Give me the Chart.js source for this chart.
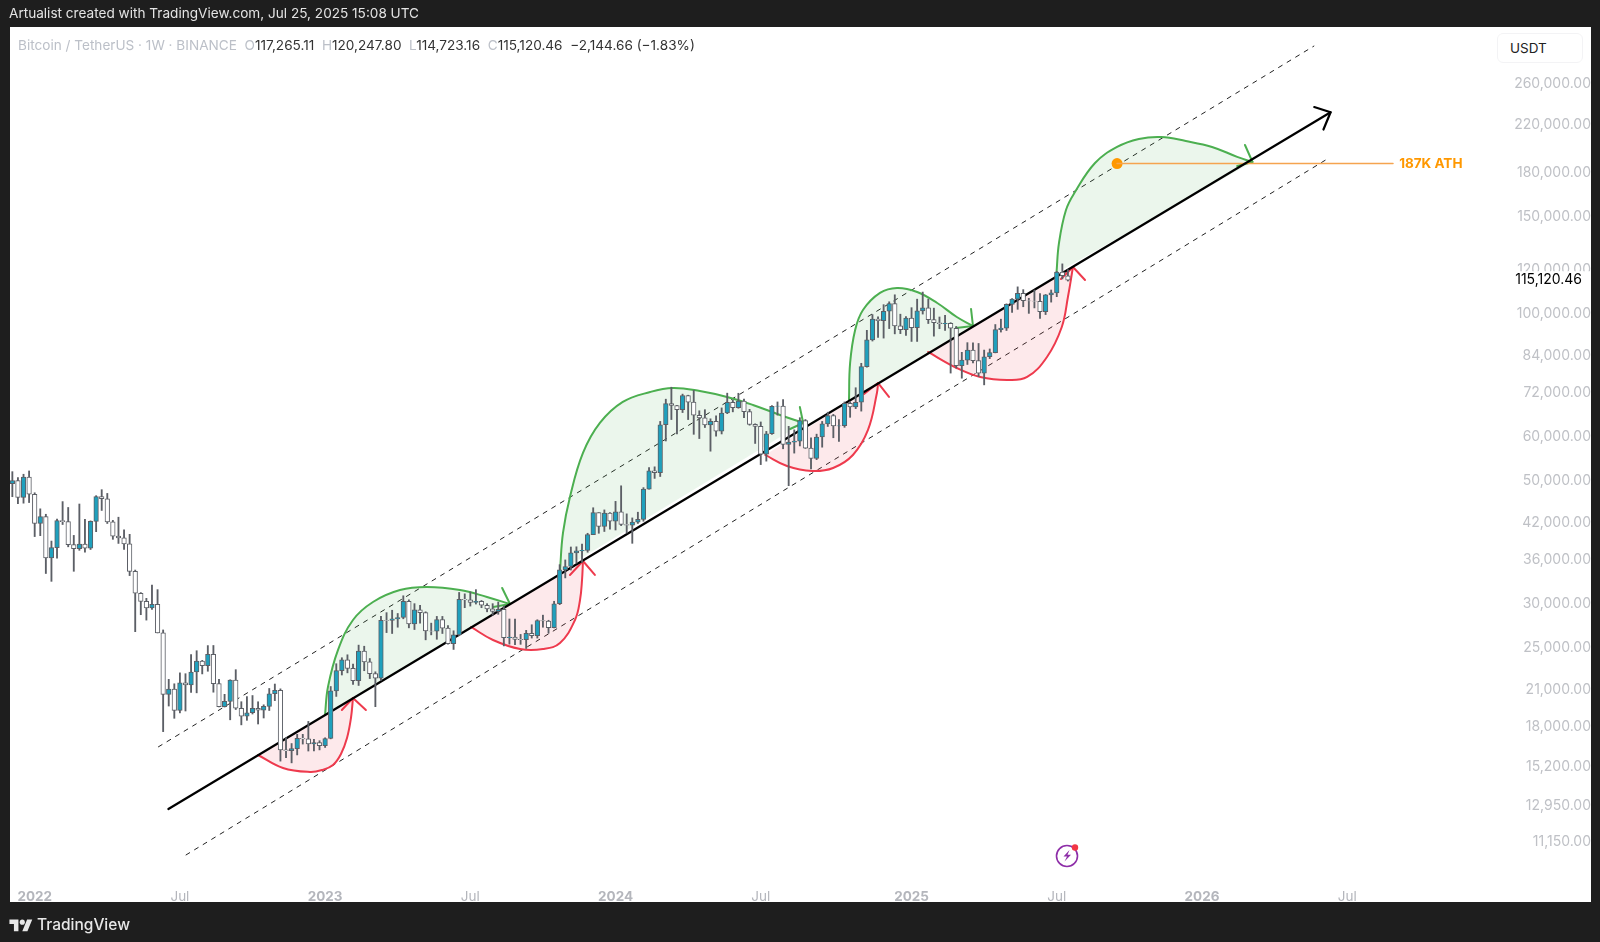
<!DOCTYPE html>
<html><head><meta charset="utf-8">
<style>
html,body{margin:0;padding:0;width:1600px;height:942px;background:#1e1e1e;overflow:hidden;font-family:Inter,"Noto Sans",sans-serif}
#panel{position:absolute;left:10px;top:27px;width:1581px;height:875px;background:#fff}
canvas{position:absolute;left:0;top:0}
.t{position:absolute;white-space:nowrap}
#hdr{left:9px;top:5px;font-size:13.6px;line-height:17px;color:#e4e4e4}
#leg{left:18px;top:36px;font-size:13.6px;line-height:18px;color:#333}
#leg i{font-style:normal;color:#bcc0c8}
#usdt{left:1497px;top:33px;width:84px;height:28px;border:1px solid #f3f3f5;border-radius:6px;color:#222;font-size:13.5px;line-height:28px;text-indent:12px;background:#fff}
#foot{left:37px;top:915px;font-size:15.5px;line-height:19px;color:#e8e8e8;font-weight:500}
</style></head><body>
<div id="panel"></div>
<canvas id="c" width="1600" height="942"></canvas>
<div class="t" id="hdr">Artualist created with TradingView.com, Jul 25, 2025 15:08 UTC</div>
<div class="t" id="leg"><i>Bitcoin / TetherUS · 1W · BINANCE&nbsp; O</i>117,265.11&nbsp; <i>H</i>120,247.80&nbsp; <i>L</i>114,723.16&nbsp; <i>C</i>115,120.46&nbsp; −2,144.66 (−1.83%)</div>
<div class="t" id="usdt">USDT</div>
<svg class="t" style="left:9px;top:917px" width="24" height="18" viewBox="0 0 36 28"><path fill="#e8e8e8" d="M14 22H7V11H0V4h14v18zM28 22h-8l7.5-18h8L28 22z"/><circle fill="#e8e8e8" cx="20" cy="8" r="4"/></svg>
<div class="t" id="foot">TradingView</div>
<svg class="t" style="left:1054px;top:841px" width="28" height="28" viewBox="0 0 28 28"><circle cx="13" cy="15" r="10.5" fill="none" stroke="#8e2ea8" stroke-width="1.6"/><path d="M15.5 9 L9.5 15.5 H13 L10.5 20.5 L17 13.8 H13.5 Z" fill="#8e2ea8"/><circle cx="21" cy="6.5" r="3.2" fill="#f23645"/></svg>
<script src="https://cdn.jsdelivr.net/npm/chart.js@4"></script>
<script>
// Weekly candles, first one = week of 2021-12-06 (week number -4; 0 = week of 2022-01-03)
const firstWeek = -4;
const open = [
49396,50053,46681,50775,47286,41864,43075,36276,37881,42380,
42197,38340,37699,38420,37777,42233,46827,46400,42158,39716,
39450,38470,34302,31328,30293,29469,29919,26574,20574,21027,
19243,21587,21400,22579,23634,23175,24305,21515,19555,19990,
21826,19420,18800,19060,19415,19262,19570,20627,20925,16330,
16280,16425,17130,17100,16740,16838,16618,17127,20871,22707,
23743,22930,21780,24630,23558,22430,21999,27983,27970,28170,
28320,30300,27590,29230,28900,26780,26750,28075,27100,25400,
26340,30530,30470,30160,30290,29800,29350,29050,29300,26050,
26100,25860,25830,26520,26250,27970,27917,27150,29990,34530,
35010,37060,37370,37450,39970,43790,41370,43720,42280,43950,
41700,41580,42120,42580,48300,52130,51730,63130,68950,68390,
67210,71280,69360,65660,64940,63100,64000,61480,66270,69270,
67780,69650,66670,63200,62700,55850,60800,68160,68250,58160,
58720,58950,64220,57270,54870,59990,63340,65600,62820,62870,
69000,67950,69300,80370,89850,97900,97300,101170,104460,95190,
93700,98360,94500,101330,102620,97700,96460,96120,96270,94270,
80700,82600,86080,82390,78250,83760,85170,93750,94300,104120,
106450,109000,105700,105600,105500,100960,108350,109200,119090,117265.11];
const high = [
51936,50650,51380,52088,47570,44500,43505,38919,42656,45855,
44751,39843,45400,42594,42325,47000,48189,47444,42414,42976,
40797,40023,34500,31414,30670,32400,31800,26895,21900,21500,
22500,22420,24281,24668,23700,25200,25211,21900,20580,21860,
22799,19956,20385,20475,19951,19700,21085,21478,21053,17190,
16771,17424,17424,18387,17061,16970,17176,21258,23371,23960,
24255,23340,25250,25134,23880,22600,28470,28900,29190,28800,
31000,30480,30000,29800,29000,27666,28450,28450,27400,26800,
31431,31250,31500,31800,30400,30000,30000,30200,29700,28150,
28140,26400,26850,27480,28060,28600,28000,30300,35280,35980,
37970,38000,38450,40200,44700,43800,44300,43800,45900,48970,
43580,42850,43880,48600,52820,52990,64000,70200,73777,68400,
71700,71370,72800,66900,67200,64700,65500,67700,71980,70000,
71950,70200,67300,63370,63860,61400,68350,69400,70080,62700,
61800,65000,64500,59800,60700,64000,66500,65900,64500,69400,
69500,73620,81500,93480,99800,98900,104000,105250,108350,99960,
99000,102700,106400,109588,106457,102500,98800,99500,96500,95000,
85300,88800,88770,88500,86100,86500,95750,97900,104350,106660,
111980,110700,106800,110500,108950,108500,110530,119490,123218,120247.80];
const low = [
46800,45456,45558,45678,39650,39800,34008,32917,36250,41688,
38000,34322,37450,37155,37578,40467,44200,41868,39200,38536,
37578,33713,26700,28654,28019,29300,26560,17622,19600,18626,
19050,19200,20750,20706,22400,22650,20761,19520,19520,18510,
19320,18125,18471,18961,18190,18650,19240,20048,15588,15815,
15476,15995,16733,16256,16272,16333,16500,17100,20400,22300,
22500,21451,21351,22700,21971,19549,21810,26600,26500,27200,
28170,27130,26940,27666,25811,26350,25871,26500,25350,24800,
26250,29500,29700,29950,29500,29000,28600,28700,25166,25350,
25300,25333,24900,26000,26000,27200,26530,27120,29880,33390,
34500,35500,35600,37150,39970,40200,40500,40900,40750,41500,
40250,38555,41880,42260,48300,50500,50900,59000,64500,60760,
66400,64500,60660,59600,62400,56550,60200,60750,66100,66600,
67600,65000,63000,58400,53485,54260,60650,65700,57120,49000,
56100,57800,57200,52550,54600,57500,62670,59800,58900,62450,
65100,67500,66800,80200,89400,90800,90500,94150,92100,92200,
91500,89250,89250,100000,96150,91230,94090,93400,78250,79900,
76600,81100,81600,77150,74508,83100,85100,92800,93400,100700,
102000,103100,100300,102600,98200,99800,105100,107500,115736,114723.16];
const close = [
50053,46681,50775,47286,41864,43088,36276,37881,42380,42197,
38340,37699,38420,37777,42233,46827,46400,42158,39716,39450,
38470,34302,31328,30293,29469,29919,26574,20574,21027,19243,
21587,21400,22579,23634,23175,24305,21515,19555,19990,21826,
19420,18800,19060,19415,19262,19570,20627,20925,16330,16280,
16425,17130,17100,16740,16838,16618,17127,20870,22707,23743,
22930,21780,24630,23558,22430,21999,27983,27970,28170,28320,
30300,27590,29230,28900,26780,26750,28075,27100,25400,26340,
30530,30470,30160,30290,29800,29350,29050,29300,26050,26100,
25860,25830,26520,26250,27970,27917,27150,29990,34530,35010,
37060,37370,37450,39970,43790,41370,43720,42280,43950,41700,
41580,42120,42580,48300,52130,51730,63130,68950,68390,67210,
71280,69360,65660,64940,63100,64000,61480,66270,69270,67780,
69650,66670,63200,62700,55850,60800,68160,68250,58160,58720,
58950,64220,57270,54870,59990,63340,65600,62820,62870,69000,
67950,69300,80370,89850,97900,97300,101170,104460,95190,93700,
98360,94500,101330,102620,97700,96460,96120,96270,94270,80700,
82600,86080,82390,78250,83760,85170,93750,94300,104120,106450,
109000,105700,105600,105500,100960,108350,109200,119090,117265,115120.46];

const priceTicks = [260000,220000,180000,150000,120000,100000,84000,72000,60000,50000,42000,36000,30000,25000,21000,18000,15200,12950,11150];
const timeTickWeeks = [0,26,52,78,104,130,157,183,209,235];
const timeTickLabels = ['2022','Jul','2023','Jul','2024','Jul','2025','Jul','2026','Jul'];

// Channel lines: [week, price]
const trendLine = [[23.94,12772],[232.03,231460]];
const trendHead = [[229.1,236500],[232.03,231460],[230.75,215400]];
const upperChannel = [[22.1,16530],[229.1,305000]];
const lowerChannel = [[27.04,10545],[231.67,191200]];
const athLine = [[193.8,187000],[243.2,187000]];
const athDot = [[193.8,187000]];
const athLabel = '187K ATH';
const athLabelWeek = 244.3;

// Hand drawn curves: [week, price]
const red1 = [[39.98,15990],[44.46,15150],[49.29,14900],[51.44,15020],[53.41,15340],[54.84,16060],[55.92,17160],[56.63,18650],[56.99,20270]];
const red1Head = [[55.0,19280],[56.99,20270],[59.3,19280]];
const green1 = [[51.98,18880],[52.51,21220],[54.3,24740],[56.99,28030],[60.57,30210],[65.4,31750],[70.24,32150],[76.15,31750],[80.98,30840],[85.1,29960]];
const green1Head = [[83.7,32020],[85.1,29960],[82.1,29590]];
const red2 = [[78.12,27230],[82.06,25790],[86.9,24850],[91.0,24850],[94.05,25470],[96.74,28030],[97.64,30460],[98.0,33100],[98.17,35820]];
const red2Head = [[95.84,33800],[98.17,35820],[100.3,33800]];
const green2 = [[94.05,34370],[94.59,40250],[95.84,46750],[98.17,56130],[101.2,63590],[105.3,69400],[110.2,72330],[114.3,73550],[119.1,72630],[123.96,70850],[128.6,68530],[133.45,65740],[137.6,63590]];
const green2Head = [[137.0,67960],[137.6,63590],[135.25,62020]];
const red3 = [[130.8,55670],[134.7,53170],[139.2,52080],[142.95,52740],[146.5,55670],[149.2,61770],[150.8,72030],[151.0,75100]];
const red3Head = [[148.5,71740],[151.0,75100],[152.96,70850]];
const green3 = [[145.8,69970],[146.0,81600],[146.9,93620],[148.3,101700],[151.35,109200],[154.4,111480],[158.0,109640],[161.6,104720],[165.1,98800],[168.0,95170]];
const green3Head = [[167.65,102160],[168.0,95170],[164.95,94400]];
const red4 = [[159.95,85430],[165.1,79920],[169.3,76990],[174.1,76030],[177.7,76990],[181.25,83670],[183.9,94780],[185.0,107360],[185.9,121620]];
const red4Head = [[183.75,115700],[185.9,121620],[188.06,115200]];
const green4 = [[182.95,118640],[183.4,134420],[184.65,154160],[186.26,166100],[189.85,187440],[193.8,200360],[197.7,207130],[201.7,208840],[206.1,205370],[210.8,200360],[215.3,192250],[218.05,188180]];
const green4Head = [[216.7,202000],[218.05,188180],[215.3,185100]];

const TEAL='#1fa0bd', WICK='#5c5f66', GREEN='#4caf50', RED='#ee3a4d', ORANGE='#ff9800', INK='#000';
const pts = a => a.map(p => ({x:p[0], y:p[1]}));
const lineDS = (a, color, width, extra) => Object.assign({type:'line', data:pts(a), borderColor:color, borderWidth:width, pointRadius:0, tension:0, fill:false, order:5, borderCapStyle:'round', borderJoinStyle:'round'}, extra||{});

function curve(a, head, color, fillColor){
  const chord = [a[0], a[a.length-1]];
  return [
    lineDS(a, color, 2, {tension:0.4, fill:'+1', backgroundColor:fillColor, order:4}),
    lineDS(chord, 'rgba(0,0,0,0)', 0, {order:6}),
    lineDS(head, color, 2, {order:4})
  ];
}
const GF='rgba(76,175,80,0.11)', RF='rgba(238,58,77,0.11)';
const candles = open.map((o,i)=>({x:firstWeek+i, o, h:high[i], l:low[i], c:close[i]}));

const datasets = [
  {type:'bar', grouped:false, data:candles.map(d=>({x:d.x,y:[d.o,d.c]})), barThickness:4.6, borderWidth:1, borderSkipped:false,
   borderColor:WICK, backgroundColor:candles.map(d=>d.c>=d.o?TEAL:'#ffffff'), order:1},
  {type:'bar', grouped:false, data:candles.map(d=>({x:d.x,y:[d.l,d.h]})), barThickness:1.2, borderWidth:0, backgroundColor:WICK, order:2},
  lineDS(trendLine, INK, 2.2, {order:3}),
  lineDS(trendHead, INK, 2.2, {order:3}),
  lineDS(upperChannel, '#222', 1, {borderDash:[5,5], borderCapStyle:'butt', order:7}),
  lineDS(lowerChannel, '#222', 1, {borderDash:[5,5], borderCapStyle:'butt', order:7}),
  ...curve(red1, red1Head, RED, RF),
  ...curve(green1, green1Head, GREEN, GF),
  ...curve(red2, red2Head, RED, RF),
  ...curve(green2, green2Head, GREEN, GF),
  ...curve(red3, red3Head, RED, RF),
  ...curve(green3, green3Head, GREEN, GF),
  ...curve(red4, red4Head, RED, RF),
  ...curve(green4, green4Head, GREEN, GF),
  lineDS(athLine, '#f5a44f', 1.5, {order:3}),
  {type:'scatter', data:pts(athDot), pointRadius:5.5, pointBackgroundColor:ORANGE, pointBorderWidth:0, order:3}
];

const overlay = {
  id:'overlay',
  afterDraw(chart){
    const {ctx, scales:{x,y}} = chart;
    ctx.save();
    ctx.textBaseline='middle';
    ctx.textAlign='left';
    ctx.font='700 13.5px Inter';
    ctx.fillStyle=ORANGE;
    ctx.fillText(athLabel, x.getPixelForValue(athLabelWeek), y.getPixelForValue(187000)+0.5);
    const last = close[close.length-1], py = y.getPixelForValue(last);
    ctx.fillStyle='#fff';
    ctx.fillRect(x.right+1, py-9, 98, 18);
    ctx.fillStyle='#000';
    ctx.textAlign='right';
    ctx.font='14px Inter';
    ctx.fillText(last.toLocaleString('en-US',{minimumFractionDigits:2}), 1582, py);
    ctx.restore();
  }
};

new Chart(document.getElementById('c'), {
  data:{datasets},
  plugins:[overlay],
  options:{
    responsive:false, animation:false, events:[],
    layout:{padding:{left:10,top:27,right:9,bottom:40}},
    plugins:{legend:{display:false},tooltip:{enabled:false},title:{display:false}},
    scales:{
      x:{type:'linear',min:-4.42,max:260.75,offset:false,grid:{display:false},border:{display:false},
        afterFit(s){s.height=29;},
        afterBuildTicks(s){s.ticks=timeTickWeeks.map(v=>({value:v}));},
        ticks:{autoSkip:false,maxRotation:0,padding:8,color:'#b4b6bc',
          font:c=>{const i=c.index; return {family:'Inter',size:13.5,weight:/^\d/.test(timeTickLabels[i]||'')?'700':'400'};},
          callback:(v)=>timeTickLabels[timeTickWeeks.indexOf(v)]}},
      y:{type:'logarithmic',position:'right',min:9790,max:329900,grid:{display:false},border:{display:false},
        afterFit(s){s.width=100;},
        afterBuildTicks(s){s.ticks=priceTicks.map(v=>({value:v}));},
        ticks:{autoSkip:false,padding:11,crossAlign:'far',color:'#bfc1c6',font:{family:'Inter',size:14},
          callback:v=>Number(v).toLocaleString('en-US',{minimumFractionDigits:2})}}
    }
  }
});
</script>
</body></html>
